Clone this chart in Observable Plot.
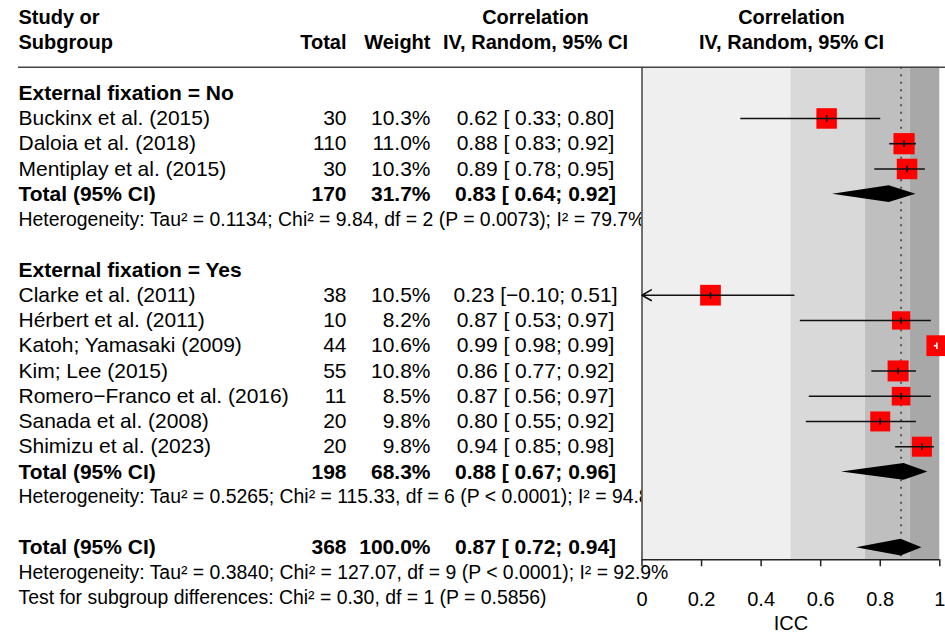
<!DOCTYPE html>
<html><head><meta charset="utf-8">
<script src="https://cdn.jsdelivr.net/npm/d3@7"></script>
<script src="https://cdn.jsdelivr.net/npm/@observablehq/plot@0.6"></script>
<style>
body{margin:0;background:#fff;}
#wrap{position:relative;width:945px;height:634px;overflow:hidden;}
#wrap svg{position:absolute;left:0;top:0;overflow:visible;}
</style></head><body><div id="wrap"></div>
<script>
// ---- data ----
const studies = ["Buckinx et al. (2015)", "Daloia et al. (2018)", "Mentiplay et al. (2015)",
  "Clarke et al. (2011)", "Hérbert et al. (2011)", "Katoh; Yamasaki (2009)", "Kim; Lee (2015)",
  "Romero\u2212Franco et al. (2016)", "Sanada et al. (2008)", "Shimizu et al. (2023)"];
const group  = ["No","No","No","Yes","Yes","Yes","Yes","Yes","Yes","Yes"];
const totals = [30, 110, 30, 38, 10, 44, 55, 11, 20, 20];
const weights = [10.3, 11.0, 10.3, 10.5, 8.2, 10.6, 10.8, 8.5, 9.8, 9.8];
const est   = [0.62, 0.88, 0.89, 0.23, 0.87, 0.99, 0.86, 0.87, 0.80, 0.94];
const lower = [0.33, 0.83, 0.78, -0.10, 0.53, 0.98, 0.77, 0.56, 0.55, 0.85];
const upper = [0.80, 0.92, 0.95, 0.51, 0.97, 0.99, 0.92, 0.97, 0.92, 0.98];

const groupKeys = ["No", "Yes"];
const groupLabels = ["External fixation = No", "External fixation = Yes"];
const subTotal = [170, 198];
const subWeight = [31.7, 68.3];
const subEst = [0.83, 0.88];
const subLower = [0.64, 0.67];
const subUpper = [0.92, 0.96];
const subHet = [
  "Heterogeneity: Tau\u00b2 = 0.1134; Chi\u00b2 = 9.84, df = 2 (P = 0.0073); I\u00b2 = 79.7%",
  "Heterogeneity: Tau\u00b2 = 0.5265; Chi\u00b2 = 115.33, df = 6 (P < 0.0001); I\u00b2 = 94.8%"
];
const overallTotal = 368, overallWeight = 100.0;
const overallEst = 0.87, overallLower = 0.72, overallUpper = 0.94;
const overallHet = "Heterogeneity: Tau\u00b2 = 0.3840; Chi\u00b2 = 127.07, df = 9 (P < 0.0001); I\u00b2 = 92.9%";
const testText = "Test for subgroup differences: Chi\u00b2 = 0.30, df = 1 (P = 0.5856)";
const headerTop = ["Study or", "Correlation", "Correlation"];
const headerBottom = ["Subgroup", "Total", "Weight", "IV, Random, 95% CI", "IV, Random, 95% CI"];
const xTicks = [0, 0.2, 0.4, 0.6, 0.8, 1];
const xLabel = "ICC";
const bandLo = [0, 0.5, 0.75, 0.9];
const bandHi = [0.5, 0.75, 0.9, 1];
const bandColor = ["#efefef", "#d9d9d9", "#bfbfbf", "#a8a8a8"];

// ---- layout ----
const FONT = "'Liberation Sans', Arial, Helvetica, sans-serif";
const FS = 20;        // headers, axis
const FS_ROW = 21;    // table rows
const FS_NOTE = 19.4; // heterogeneity / test lines
const yDom = [-1.03, 18.48];
const yRange = [66.7, 559.3];
const xRange = [641.5, 939.3];
const colX = {c0: 18, c1: 346, c2: 430, c3: 535, c4: 791};
const colAnchor = {c0: "start", c1: "end", c2: "end", c3: "middle", c4: "middle"};
const rMax = 11.85, rRefW = 10.8;

const fmtV = v => v < 0 ? "\u2212" + Math.abs(v).toFixed(2) : " " + v.toFixed(2);

const textRows = [];
const studyRows = [];
const diamonds = [];
textRows.push({r: -3, c0: headerTop[0], c3: headerTop[1], c4: headerTop[2], bold: true, kind: "head"});
textRows.push({r: -2, c0: headerBottom[0], c1: headerBottom[1], c2: headerBottom[2], c3: headerBottom[3], c4: headerBottom[4], bold: true, kind: "head"});

let r = 0;
const pxPerUnit = xRange[1] - xRange[0];
groupKeys.forEach((g, gi) => {
  textRows.push({r, c0: groupLabels[gi], bold: true, kind: "row"}); r++;
  studies.forEach((s, i) => {
    if (group[i] !== g) return;
    const side = rMax * Math.sqrt(weights[i] / rRefW) * Math.sqrt(Math.PI);
    studyRows.push({r, est: est[i], lower: lower[i], upper: upper[i], weight: weights[i],
      inside: (upper[i] - lower[i]) * pxPerUnit < side});
    textRows.push({r, c0: s, c1: String(totals[i]), c2: weights[i].toFixed(1) + "%",
      c3: `${est[i].toFixed(2)} [${fmtV(lower[i])}; ${upper[i].toFixed(2)}]`, kind: "row"});
    r++;
  });
  textRows.push({r, c0: "Total (95% CI)", c1: String(subTotal[gi]), c2: subWeight[gi].toFixed(1) + "%",
    c3: `${subEst[gi].toFixed(2)} [${fmtV(subLower[gi])}; ${subUpper[gi].toFixed(2)}]`, bold: true, kind: "row"});
  diamonds.push({id: "g" + gi, r, est: subEst[gi], lower: subLower[gi], upper: subUpper[gi]});
  r++;
  textRows.push({r, c0: subHet[gi], kind: "note"}); r++;
  r++;
});
textRows.push({r, c0: "Total (95% CI)", c1: String(overallTotal), c2: overallWeight.toFixed(1) + "%",
  c3: `${overallEst.toFixed(2)} [${fmtV(overallLower)}; ${overallUpper.toFixed(2)}]`, bold: true, kind: "row"});
diamonds.push({id: "all", r, est: overallEst, lower: overallLower, upper: overallUpper});
r++;
textRows.push({r, c0: overallHet, kind: "note"}); r++;
textRows.push({r, c0: testText, kind: "note"}); r++;

const dh = 0.33;
const diamondPts = diamonds.flatMap(d => [
  {id: d.id, x: d.lower, y1: d.r, y2: d.r},
  {id: d.id, x: d.est, y1: d.r - dh, y2: d.r + dh},
  {id: d.id, x: d.upper, y1: d.r, y2: d.r}
]);
const bands = bandLo.map((lo, i) => ({lo, hi: bandHi[i], color: bandColor[i]}));

// ---- table layer ----
const sizeOf = {head: FS, row: FS_ROW, note: FS_NOTE};
const textMarks = [];
for (const col of ["c0", "c1", "c2", "c3", "c4"]) {
  for (const kind of ["head", "row", "note"]) {
    for (const bold of [false, true]) {
      const rows = textRows.filter(d => d[col] != null && !!d.bold === bold && d.kind === kind);
      if (!rows.length) continue;
      textMarks.push(Plot.text(rows, {x: () => colX[col], y: "r", text: col, textAnchor: colAnchor[col],
        fontSize: sizeOf[kind], fontWeight: bold ? "bold" : "normal", fill: "#000"}));
    }
  }
}
const A = Plot.plot({
  width: 945, height: 634, margin: 0,
  x: {type: "identity", axis: null},
  y: {domain: yDom, range: yRange, axis: null},
  style: {fontFamily: FONT, background: "white"},
  marks: textMarks
});

// ---- forest layer ----
const stroke = d => d.inside ? "#ffffff" : "#111111";
const B = Plot.plot({
  width: 945, height: 634,
  marginLeft: 18, marginRight: 0, marginTop: yRange[0], marginBottom: 634 - yRange[1],
  x: {domain: [0, 1], range: xRange},
  y: {domain: yDom, range: yRange, axis: null},
  r: {type: "sqrt", domain: [0, rRefW], range: [0, rMax]},
  color: {type: "identity"},
  style: {fontFamily: FONT, fontSize: FS + "px", background: "none", color: "#000"},
  marks: [
    Plot.rect(bands, {x1: "lo", x2: "hi", fill: "color"}),
    Plot.ruleX([overallEst], {stroke: "#555", strokeWidth: 2, strokeDasharray: "2,5.5"}),
    Plot.ruleX([0], {stroke: "#444", strokeWidth: 1.5}),
    Plot.ruleY([yDom[0]], {stroke: "#444", strokeWidth: 1.5}),
    Plot.ruleY([yDom[1]], {x1: 0, x2: 1, stroke: "#222", strokeWidth: 1.5}),
    Plot.axisX({ticks: xTicks, tickFormat: d => String(d), tickSize: 7, tickPadding: 24.7,
      fontSize: FS, label: null, stroke: "#222", strokeWidth: 1.5, fill: "#000"}),
    Plot.text([xLabel], {x: () => 0.5, frameAnchor: "bottom", dy: 70, fontSize: FS, fill: "#000"}),
    Plot.dot(studyRows, {x: "est", y: "r", r: "weight", symbol: "square", fill: "#ff0000"}),
    Plot.link(studyRows.filter(d => d.lower >= 0), {x1: "lower", x2: "upper", y1: "r", y2: "r",
      stroke, strokeWidth: 1.6}),
    Plot.arrow(studyRows.filter(d => d.lower < 0), {x1: "upper", x2: () => 0, y1: "r", y2: "r",
      stroke: "#111", strokeWidth: 1.6, headLength: 10, headAngle: 60, bend: 0}),
    Plot.link(studyRows, {x1: "est", x2: "est", y1: d => d.r - 0.13, y2: d => d.r + 0.13,
      stroke, strokeWidth: 1.6}),
    Plot.areaY(diamondPts, {x: "x", y1: "y1", y2: "y2", z: "id", fill: "#000", curve: "linear"})
  ]
});

const wrap = document.getElementById("wrap");
wrap.appendChild(A);
wrap.appendChild(B);
</script>
</body></html>
